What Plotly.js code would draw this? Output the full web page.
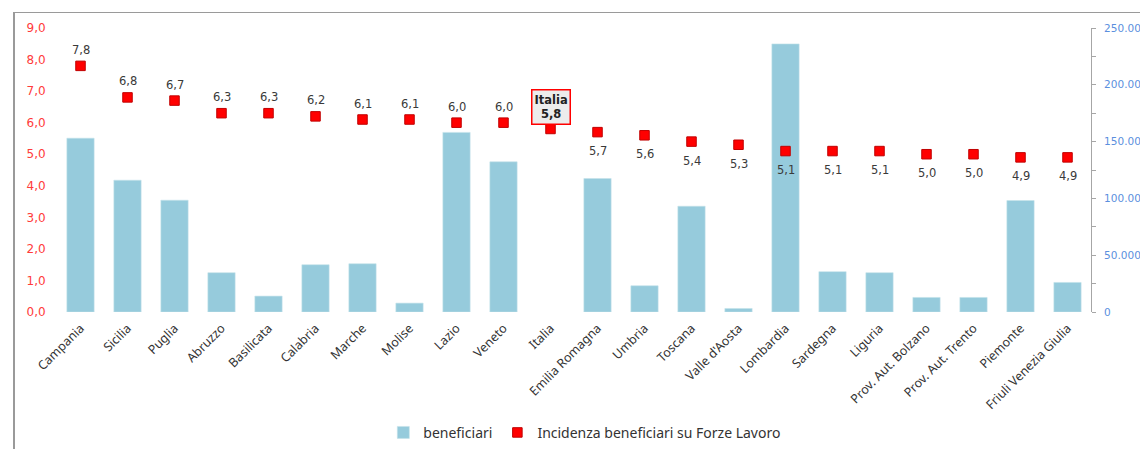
<!DOCTYPE html>
<html>
<head>
<meta charset="utf-8">
<script src="https://cdn.plot.ly/plotly-3.0.1.min.js"></script>
<style>
  html, body { margin: 0; padding: 0; background: #fff; }
  #wrap { position: relative; width: 1140px; height: 449px; overflow: hidden; }
  #chart { width: 1140px; height: 449px; }
  #frame { position: absolute; left: 13px; top: 12px; width: 1140px; height: 460px;
           border-left: 2px solid #9a9a9a; border-top: 1px solid #9a9a9a; pointer-events: none; }
</style>
</head>
<body>
<div id="wrap">
  <div id="chart"></div>
  <div id="frame"></div>
</div>
<script>
const categories = ["Campania","Sicilia","Puglia","Abruzzo","Basilicata","Calabria","Marche","Molise","Lazio","Veneto","Italia","Emilia Romagna","Umbria","Toscana","Valle d'Aosta","Lombardia","Sardegna","Liguria","Prov. Aut. Bolzano","Prov. Aut. Trento","Piemonte","Friuli Venezia Giulia"];
const beneficiari = [153000,116000,98400,34600,14000,41600,42500,7800,158100,132200,null,117500,23100,93100,3100,236000,35500,34600,12800,12800,98100,26000];
const incidenza = [7.8,6.8,6.7,6.3,6.3,6.2,6.1,6.1,6.0,6.0,5.8,5.7,5.6,5.4,5.3,5.1,5.1,5.1,5.0,5.0,4.9,4.9];
const labelAbove = [true,true,true,true,true,true,true,true,true,true,null,false,false,false,false,false,false,false,false,false,false,false];
const highlight = "Italia";

const fmt = v => v.toFixed(1).replace('.', ',');
const hiIdx = categories.indexOf(highlight);

const traces = [
  {
    type: 'bar', name: 'beneficiari', x: categories, y: beneficiari, yaxis: 'y',
    marker: { color: '#96CBDC', line: { color: '#c4e2ea', width: 0.6 } },
    width: 0.58
  },
  {
    type: 'scatter', mode: 'markers', name: 'Incidenza beneficiari su Forze Lavoro',
    x: categories, y: incidenza, yaxis: 'y2',
    marker: { symbol: 'square', size: 9.5, color: '#FF0000', line: { color: '#C00000', width: 1 } },
    cliponaxis: false
  }
];

const annotations = [];
incidenza.forEach((v, i) => {
  if (i === hiIdx) return;
  annotations.push({
    x: categories[i], y: v, xref: 'x', yref: 'y2',
    text: fmt(v), showarrow: false, yanchor: 'middle',
    yshift: labelAbove[i] ? 16 : -19,
    font: { family: 'DejaVu Sans, Verdana, sans-serif', size: 11.5, color: '#3a3a3a' }
  });
});
annotations.push({
  x: highlight, y: incidenza[hiIdx], xref: 'x', yref: 'y2',
  text: '<b>' + highlight + '<br>' + fmt(incidenza[hiIdx]) + '</b>',
  showarrow: false, yanchor: 'bottom', yshift: 4,
  font: { family: 'DejaVu Sans, Verdana, sans-serif', size: 11.5, color: '#222222' },
  bgcolor: '#ececec', bordercolor: '#FF0000', borderwidth: 1.5, borderpad: 2
});

const layout = {
  width: 1140, height: 449,
  margin: { l: 57, r: 49, t: 28, b: 137 },
  paper_bgcolor: '#ffffff', plot_bgcolor: '#ffffff',
  separators: ',.',
  showlegend: true,
  legend: {
    orientation: 'h', xref: 'container', yref: 'container',
    x: 0.513, xanchor: 'center', y: 0.036, yanchor: 'middle',
    font: { family: 'Noto Sans, Open Sans, sans-serif', size: 14, color: '#333333' },
    itemwidth: 30, tracegroupgap: 0
  },
  xaxis: {
    type: 'category', tickangle: -45, showgrid: false, showline: false, zeroline: false,
    ticks: 'outside', ticklen: 3, tickcolor: 'rgba(0,0,0,0)',
    tickfont: { family: 'Noto Sans, Open Sans, sans-serif', size: 12.5, color: '#333333' },
    range: [-0.5, categories.length - 0.5], fixedrange: true
  },
  yaxis: {
    side: 'right', range: [0, 250000], dtick: 50000, tickformat: ',d',
    showgrid: false, zeroline: false, showline: true, linecolor: '#a6a6a6', linewidth: 1,
    ticks: 'outside', ticklen: 4, tickcolor: '#a6a6a6', ticklabelstandoff: 6,
    minor: { ticks: 'outside', ticklen: 4, dtick: 25000, tickcolor: '#a6a6a6' },
    tickfont: { family: 'DejaVu Sans, Verdana, sans-serif', size: 10.5, color: '#5B8FDE' },
    fixedrange: true
  },
  yaxis2: {
    overlaying: 'y', side: 'left', range: [0, 9], dtick: 1, tickformat: '.1f',
    showgrid: false, zeroline: false, showline: false,
    ticks: 'outside', ticklen: 8, tickcolor: 'rgba(0,0,0,0)',
    tickfont: { family: 'DejaVu Sans, Verdana, sans-serif', size: 12, color: '#FF3B3B' },
    fixedrange: true
  },
  annotations: annotations
};

Plotly.newPlot('chart', traces, layout, { displayModeBar: false, staticPlot: true });
</script>
</body>
</html>
